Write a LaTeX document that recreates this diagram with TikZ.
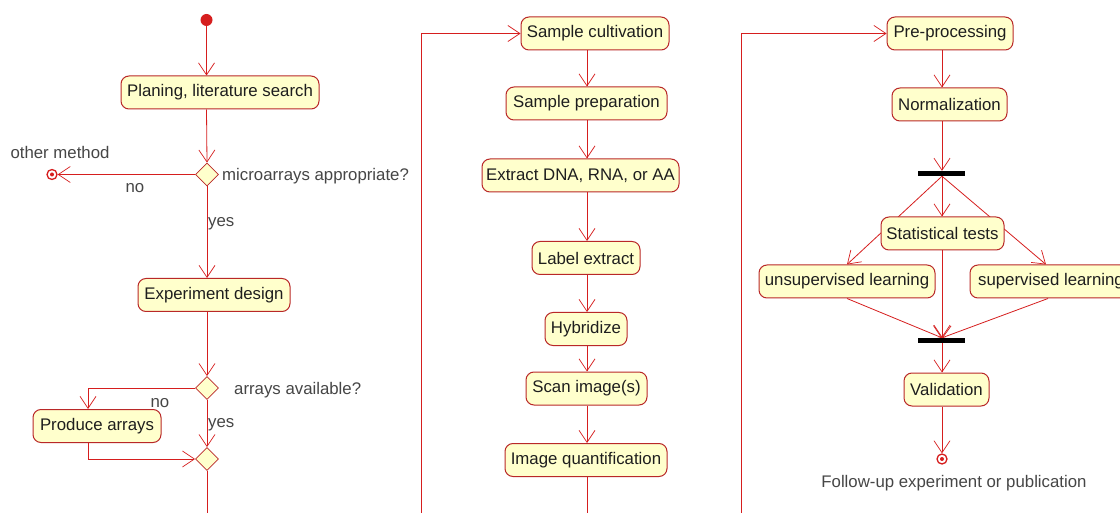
\documentclass[tikz,border=0pt]{standalone}
\usepackage{fontspec}
\setmainfont{Liberation Sans}
\usetikzlibrary{arrows.meta,shapes.geometric}
\pgfdeclarelayer{paper}
\pgfdeclarelayer{wires}
\pgfsetlayers{paper,wires,main}
\definecolor{flow}{RGB}{214,30,30}
\definecolor{boxline}{RGB}{185,40,40}
\definecolor{boxfill}{RGB}{255,255,204}
\definecolor{ink}{RGB}{30,30,30}
\definecolor{note}{RGB}{70,70,70}

\begin{document}
\begin{tikzpicture}[x=1pt,y=-1pt,
  font=\fontsize{16.8}{20}\selectfont,
  action/.style={draw=boxline, fill=boxfill, line width=1pt, rounded corners=8pt,
    minimum height=33pt, inner xsep=4pt, inner ysep=0pt, text=ink},
  decision/.style={diamond, draw=boxline, fill=boxfill, line width=0.8pt,
    minimum width=23pt, minimum height=23pt, inner sep=0pt},
  syncbar/.style={fill=black, minimum width=47pt, minimum height=5pt, inner sep=0pt},
  startdot/.style={circle, fill=flow, minimum size=12pt, inner sep=0pt},
  enddot/.style={circle, draw=flow, fill=white, line width=1.3pt, minimum size=10pt,
    inner sep=0pt, path picture={\fill[flow] (path picture bounding box.center) circle (2pt);}},
  flowline/.style={draw=flow, line width=0.8pt},
  go/.style={flowline, -{Straight Barb[length=12pt,width=16pt,line width=0.7pt]}},
  caption/.style={text=note, inner sep=0pt}
]
\path[use as bounding box] (0,0) rectangle (1120,513);
\begin{pgfonlayer}{paper}
  \fill[white] (0,0) rectangle (1120,513);
\end{pgfonlayer}
\clip (0,0) rectangle (1120,513);

% ---- planning and design ----
\node[startdot] (start) at (206.5,20) {};
\node[action, minimum width=198pt] (plan) at (220,92.5) {Planing, literature search};
\node[decision] (d1) at (207,174.5) {};
\node[enddot] (other) at (52,174.5) {};
\node[caption] (otherlbl) at (60,152) {other method};
\node[caption, anchor=west] (q1) at (222,176) {microarrays appropriate?};
\node[caption] (no1) at (135,188) {no};
\node[caption, anchor=west] (yes1) at (208,224) {yes};
\node[action, minimum width=152pt] (design) at (214,295) {Experiment design};
\node[decision] (d2) at (207,388) {};
\node[caption, anchor=west] (q2) at (234,390) {arrays available?};
\node[caption] (no2) at (160,403) {no};
\node[action, minimum width=128pt] (produce) at (97,426) {Produce arrays};
\node[caption, anchor=west] (yes2) at (208,425) {yes};
\node[decision] (d3) at (207,459) {};
\coordinate (side) at (88,0);
\coordinate (down1) at (421,530);

% ---- wet lab ----
\node[action, minimum width=148pt] (cult) at (595,33.5) {Sample cultivation};
\node[action, minimum width=161pt] (prep) at (586.5,103.5) {Sample preparation};
\node[action, minimum width=197pt] (extr) at (580.5,175.5) {Extract DNA, RNA, or AA};
\node[action, minimum width=108pt] (label) at (586,258) {Label extract};
\node[action, minimum width=82pt] (hyb) at (586,329) {Hybridize};
\node[action, minimum width=121pt] (scan) at (586.5,388.5) {Scan image(s)};
\node[action, minimum width=162pt] (quant) at (586,460) {Image quantification};
\coordinate (lane2) at (587,0);
\coordinate (down2) at (741,530);

% ---- analysis ----
\node[action, minimum width=126pt] (pre) at (950,33.5) {Pre-processing};
\node[action, minimum width=115pt] (norm) at (949.5,104.5) {Normalization};
\node[syncbar] (fork) at (941.5,173.5) {};
\node[action, minimum width=123pt] (stat) at (942.5,233.5) {Statistical tests};
\node[action, minimum width=176pt] (unsup) at (847,281.5) {unsupervised learning};
\node[action, minimum width=162pt] (sup) at (1051,281.5) {supervised learning};
\node[syncbar] (join) at (941.5,340.5) {};
\node[action, minimum width=85pt] (valid) at (946.5,389.5) {Validation};
\node[enddot] (final) at (942,459) {};
\node[caption] (follow) at (954,483) {Follow-up experiment or publication};
\coordinate (lane3) at (942,0);

\begin{pgfonlayer}{wires}
  \draw[go] (start) -- (start |- plan.north);
  \draw[go] (start |- plan.south) -- (d1.north);
  \draw[go] (d1.west) -- (other);
  \draw[go] (d1.south) -- (d1.south |- design.north);
  \draw[go] (d1.south |- design.south) -- (d2.north);
  \draw[go] (d2.west) -| (side |- produce.north);
  \draw[go] (side |- produce.south) |- (d3.west);
  \draw[go] (d2.south) -- (d3.north);
  \draw[go] (d3.south) |- (down1) |- (cult.west);

  \draw[go] (lane2 |- cult.south) -- (lane2 |- prep.north);
  \draw[go] (lane2 |- prep.south) -- (lane2 |- extr.north);
  \draw[go] (lane2 |- extr.south) -- (lane2 |- label.north);
  \draw[go] (lane2 |- label.south) -- (lane2 |- hyb.north);
  \draw[go] (lane2 |- hyb.south) -- (lane2 |- scan.north);
  \draw[go] (lane2 |- scan.south) -- (lane2 |- quant.north);
  \draw[go] (lane2 |- quant.south) |- (down2) |- (pre.west);

  \draw[go] (lane3 |- pre.south) -- (lane3 |- norm.north);
  \draw[go] (lane3 |- norm.south) -- (lane3 |- fork.north);
  \draw[go] (lane3 |- fork.south) -- (lane3 |- stat.north);
  \draw[go] (lane3 |- fork.south) -- (unsup.north);
  \draw[go] (lane3 |- fork.south) -- ([xshift=-5pt]sup.north);
  \draw[go] (lane3 |- stat.south) -- (lane3 |- join.north);
  \draw[go] (unsup.south) -- (lane3 |- join.north);
  \draw[go] ([xshift=-3pt]sup.south) -- (lane3 |- join.north);
  \draw[go] (lane3 |- join.south) -- (lane3 |- valid.north);
  \draw[go] (lane3 |- valid.south) -- (final);
\end{pgfonlayer}
\end{tikzpicture}
\end{document}
